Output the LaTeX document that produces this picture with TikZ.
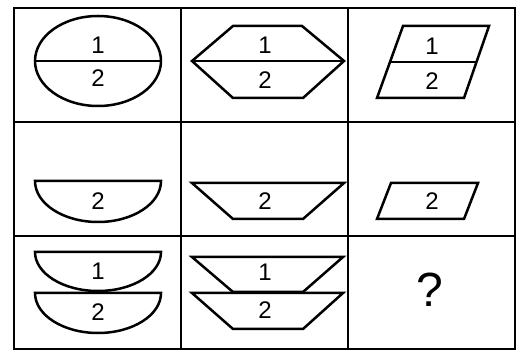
\documentclass[tikz,border=0pt]{standalone}
\usepackage{fontspec}
\setmainfont{Liberation Sans}
\usepackage{tikz}

\tikzset{
  frame/.style={line width=2.8pt},
  figline/.style={line width=2.5pt, line join=miter},
  digit/.style={font=\fontsize{24}{26}\selectfont, inner sep=0pt}
}

\begin{document}
\begin{tikzpicture}[x=1pt, y=-1pt]
\useasboundingbox (0,0) rectangle (519,352);
% Grid
\draw[frame] (14,8) rectangle (515,349);
\draw[frame] (181,8) -- (181,349);
\draw[frame] (348,8) -- (348,349);
\draw[frame] (14,122) -- (515,122);
\draw[frame] (14,236) -- (515,236);

% Row 1
\draw[figline] (98,61) ellipse [x radius=63, y radius=45];
\draw[figline] (35,61) -- (161,61);
\draw[figline] (192,61) -- (233,26) -- (302,26) -- (344,61) -- (303,98) -- (233,98) -- cycle;
\draw[figline] (192,61) -- (344,61);
\draw[figline] (403,26) -- (489,26) -- (464,98) -- (377,98) -- cycle;
\draw[figline] (390,62) -- (477,62);

% Row 2
\draw[figline] (161,181) arc [start angle=0, end angle=180, x radius=63, y radius=41] -- cycle;
\draw[figline] (192,183) -- (344,183) -- (303,219) -- (233,219) -- cycle;
\draw[figline] (391,183) -- (478,183) -- (464,219) -- (377,219) -- cycle;

% Row 3
\draw[figline] (161,252) arc [start angle=0, end angle=180, x radius=63, y radius=39] -- cycle;
\draw[figline] (161,293) arc [start angle=0, end angle=180, x radius=63, y radius=40] -- cycle;
\draw[figline] (192,257) -- (343,257) -- (303,292) -- (233,292) -- cycle;
\draw[figline] (192,293) -- (343,293) -- (303,329) -- (233,329) -- cycle;

% Labels
\node[digit] (ovalA) at (98,45) {1};
\node[digit] (ovalB) at (98,78) {2};
\node[digit] (hexA) at (265,45) {1};
\node[digit] (hexB) at (265,80) {2};
\node[digit] (parA) at (432,46) {1};
\node[digit] (parB) at (432,81) {2};
\node[digit] (halfB) at (98,201) {2};
\node[digit] (trapB) at (265,201) {2};
\node[digit] (slabB) at (432,201) {2};
\node[digit] (stackA) at (98,271) {1};
\node[digit] (stackB) at (98,312) {2};
\node[digit] (pileA) at (265,272) {1};
\node[digit] (pileB) at (265,310) {2};
\node[font=\fontsize{48}{52}\selectfont, inner sep=0pt] (query) at (430,290) {?};
\end{tikzpicture}
\end{document}
